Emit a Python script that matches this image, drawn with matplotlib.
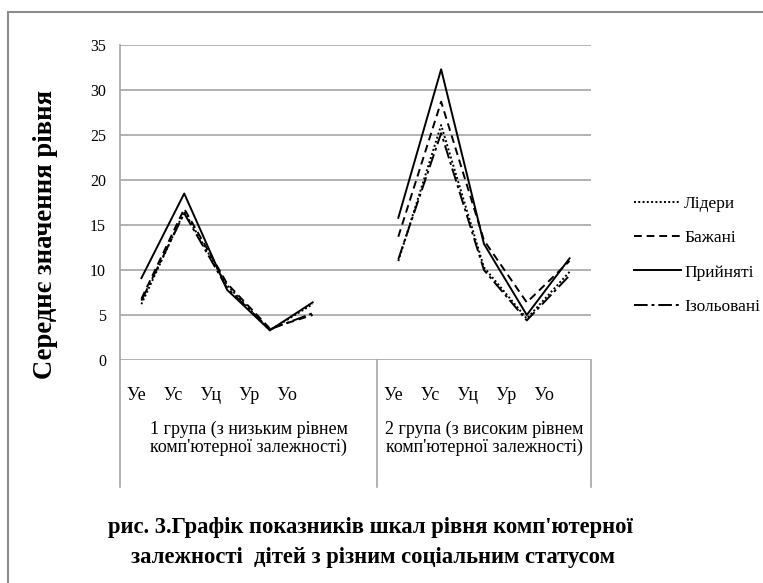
import numpy as np
import matplotlib
matplotlib.use("Agg")
import matplotlib.pyplot as plt
from matplotlib.patches import Rectangle
import matplotlib.transforms as mtransforms

# .----------------------------------------------------------------------------.
# Data (mean level per scale, two groups of children).

scales = ["Уе", "Ус", "Уц", "Ур", "Уо"]
groups = ["1 група (з низьким рівнем\nкомп'ютерної залежності)",
          "2 група (з високим рівнем\nкомп'ютерної залежності)"]
series = ["Лідери", "Бажані", "Прийняті", "Ізольовані"]

leaders_g1  = [6.2, 16.5, 8.3, 3.3, 6.2]
leaders_g2  = [11.0, 26.1, 10.3, 4.6, 9.8]
wanted_g1   = [6.8, 16.8, 8.5, 3.5, 5.0]
wanted_g2   = [13.7, 28.7, 13.3, 6.4, 11.0]
accepted_g1 = [9.1, 18.5, 7.8, 3.3, 6.4]
accepted_g2 = [15.8, 32.3, 12.9, 5.0, 11.3]
isolated_g1 = [6.6, 16.3, 8.0, 3.4, 5.2]
isolated_g2 = [11.2, 25.2, 10.0, 4.4, 9.4]

y_ticks = [0, 5, 10, 15, 20, 25, 30, 35]

# .----------------------------------------------------------------------------.

plt.rcParams['font.family'] = ['Liberation Serif', 'DejaVu Serif']

fig = plt.figure(figsize=(7.63, 5.83), dpi=100)
ax = fig.add_axes([120 / 763, 1 - 360 / 583, 471 / 763, 315 / 583])

# 11 category slots: group 1 (5) + empty slot + group 2 (5)
n1 = len(scales)
x = np.arange(2 * n1 + 1)

def joined(a, b):
    return np.array(list(a) + [np.nan] + list(b), dtype=float)

styles = [(0, (1, 1.2)), (0, (4, 2.5)), '-', (0, (7, 2, 1.5, 2))]
data = [joined(leaders_g1, leaders_g2),
        joined(wanted_g1, wanted_g2),
        joined(accepted_g1, accepted_g2),
        joined(isolated_g1, isolated_g2)]

for name, ls, vals in zip(series, styles, data):
    ax.plot(x, vals, color='black', linestyle=ls, linewidth=1.4, label=name)

ax.set_xlim(-0.5, 2 * n1 + 0.5)
ax.set_ylim(0, 35)
ax.set_yticks(y_ticks)
ax.set_yticklabels([str(t) for t in y_ticks], fontsize=11.5)
ax.set_xticks([])
ax.tick_params(axis='y', length=0, pad=10)
ax.grid(axis='y', color='#a6a6a6', linewidth=1.2)
ax.set_axisbelow(True)
for s in ['top', 'right', 'bottom']:
    ax.spines[s].set_visible(False)
ax.spines['left'].set_color('#a6a6a6')
ax.spines['left'].set_linewidth(1.2)

# category box below the plot
box_depth = -(487 - 360) / 315
for xv in [-0.5, n1 + 0.5, 2 * n1 + 0.5]:
    ax.axvline(xv, ymin=box_depth, ymax=0, color='#a6a6a6', linewidth=1.2,
               clip_on=False)

trans = mtransforms.blended_transform_factory(ax.transData, ax.transAxes)
label_row = "    ".join(scales)
for start in [-0.5, n1 + 0.5]:
    off = mtransforms.offset_copy(trans, fig=fig, x=7, y=0, units='dots')
    ax.text(start, -(396 - 360) / 315, label_row, transform=off,
            ha='left', va='center', fontsize=13)

centers = [(-0.5 + n1 + 0.5) / 2, (n1 + 0.5 + 2 * n1 + 0.5) / 2]
for c, g in zip(centers, groups):
    ax.text(c, -(438 - 360) / 315, g, transform=trans, ha='center',
            va='center', fontsize=13, linespacing=1.07)

ax.set_ylabel("Середнє значення рівня", fontsize=19.2, fontweight='bold')
ax.yaxis.set_label_coords((58 - 120) / 471, (360 - 234) / 315)

fig.legend(loc='upper left', bbox_to_anchor=(618 / 763, 1 - 180 / 583),
           frameon=False, fontsize=12.5, handlelength=2.7,
           handletextpad=0.2, labelspacing=1.05)

fig.text(370 / 763, 1 - 528 / 583,
         "рис. 3.Графік показників шкал рівня комп'ютерної",
         ha='center', va='center', fontsize=16.3, fontweight='bold')
fig.text(373 / 763, 1 - 558 / 583,
         "залежності  дітей з різним соціальним статусом",
         ha='center', va='center', fontsize=16.3, fontweight='bold')

# chart area border (cut by the image edges on right and bottom)
fig.patches.append(Rectangle((8 / 763, -0.1), 1.2, 1 - 12 / 583 + 0.1,
                             transform=fig.transFigure, fill=False,
                             edgecolor='#8c8c8c', linewidth=1.5))

fig.savefig("out.png", dpi=100)
